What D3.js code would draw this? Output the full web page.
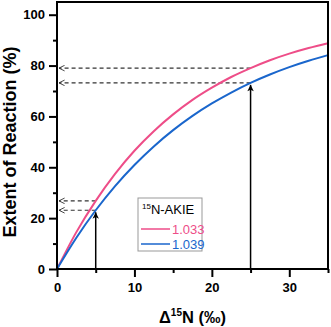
<!DOCTYPE html>
<html>
<head>
<meta charset="utf-8">
<script src="https://cdn.jsdelivr.net/npm/d3@7"></script>
<style>
  body { margin: 0; background: #fff; }
  svg { font-family: "Liberation Sans", Arial, sans-serif; }
</style>
</head>
<body>
<svg id="chart_svg" width="331" height="327"></svg>
<script>
// values
const delta = [0, 2.5, 5, 7.5, 10, 12.5, 15, 17.5, 20, 22.5, 25, 27.5, 30, 32.5, 35];
const akie1033 = [0, 14.5, 26.8, 37.4, 46.5, 54.2, 60.8, 66.5, 71.3, 75.5, 79.0, 82.1, 84.7, 86.9, 88.8];
const akie1039 = [0, 12.3, 23.1, 32.6, 40.9, 48.2, 54.6, 60.2, 65.1, 69.4, 73.2, 76.5, 79.4, 81.9, 84.1];
const seriesNames = ["1.033", "1.039"];
const seriesColors = ["#ee4d88", "#1a66cc"];
// measured points shown with arrows: [delta, extent for 1.033, extent for 1.039]
const marks = [[5, 26.8, 23.1], [25, 79.0, 73.2]];
const xTicks = [0, 10, 20, 30];
const yTicks = [0, 20, 40, 60, 80, 100];

const margin = { top: 2, right: 3, bottom: 58, left: 57 };
const svg = d3.select("#chart_svg");
const width = 331, height = 327;

const x = d3.scaleLinear().domain([0, 35]).range([margin.left, width - margin.right]);
const y = d3.scaleLinear().domain([0, 105]).range([height - margin.bottom, margin.top]);

// arrow heads, drawn pointing along +x and turned with the line
const defs = svg.append("defs");
defs.append("marker").attr("id", "head_solid")
  .attr("viewBox", "0 0 10 10").attr("refX", 9).attr("refY", 5)
  .attr("markerWidth", 8).attr("markerHeight", 8).attr("markerUnits", "userSpaceOnUse")
  .attr("orient", "auto")
  .append("path").attr("d", "M1,1 L9,5 L1,9 L3,5 Z").attr("fill", "#000");
defs.append("marker").attr("id", "head_open")
  .attr("viewBox", "0 0 10 10").attr("refX", 9).attr("refY", 5)
  .attr("markerWidth", 7).attr("markerHeight", 7).attr("markerUnits", "userSpaceOnUse")
  .attr("orient", "auto")
  .append("path").attr("d", "M1,1 L9,5 L1,9").attr("fill", "none").attr("stroke", "#333").attr("stroke-width", 1.3);

// dashed read-off lines to the y axis
marks.forEach(m => {
  [m[1], m[2]].forEach(v => {
    svg.append("line")
      .attr("x1", x(m[0])).attr("x2", x(0) + 2)
      .attr("y1", y(v)).attr("y2", y(v))
      .attr("stroke", "#333").attr("stroke-width", 1.2)
      .attr("stroke-dasharray", "4,3")
      .attr("marker-end", "url(#head_open)");
  });
});

// curves
const line = d3.line().x(d => x(d[0])).y(d => y(d[1])).curve(d3.curveMonotoneX);
[akie1033, akie1039].forEach((vals, i) => {
  svg.append("path")
    .datum(delta.map((d, j) => [d, vals[j]]))
    .attr("d", line)
    .attr("fill", "none")
    .attr("stroke", seriesColors[i])
    .attr("stroke-width", 2);
});

// vertical arrows up to the 1.039 curve
marks.forEach(m => {
  svg.append("line")
    .attr("x1", x(m[0])).attr("x2", x(m[0]))
    .attr("y1", y(0)).attr("y2", y(m[2]) + 2)
    .attr("stroke", "#000").attr("stroke-width", 1.5)
    .attr("marker-end", "url(#head_solid)");
});

// axes
const xAxis = d3.axisBottom(x).tickValues(xTicks).tickSize(8).tickFormat(d3.format("d"));
const xMinor = d3.axisBottom(x).tickValues([5, 15, 25, 35]).tickSize(4).tickFormat("");
const yAxis = d3.axisLeft(y).tickValues(yTicks).tickSize(8).tickFormat(d3.format("d"));
const yMinor = d3.axisLeft(y).tickValues([10, 30, 50, 70, 90]).tickSize(4).tickFormat("");

const gx = svg.append("g").attr("transform", "translate(0," + y(0) + ")").call(xAxis);
const gxm = svg.append("g").attr("transform", "translate(0," + y(0) + ")").call(xMinor);
const gy = svg.append("g").attr("transform", "translate(" + x(0) + ",0)").call(yAxis);
const gym = svg.append("g").attr("transform", "translate(" + x(0) + ",0)").call(yMinor);

[gx, gxm, gy, gym].forEach(g => {
  g.select(".domain").remove();
  g.selectAll(".tick line").attr("stroke", "#000").attr("stroke-width", 2);
  g.selectAll(".tick text").attr("fill", "#000")
    .style("font-size", "13px").style("font-weight", "bold");
});
gx.selectAll(".tick text").attr("dy", "0.95em");
gy.selectAll(".tick text").attr("dx", "-1px");

// frame
svg.append("rect")
  .attr("x", x(0)).attr("y", y(105))
  .attr("width", x(35) - x(0)).attr("height", y(0) - y(105))
  .attr("fill", "none").attr("stroke", "#000").attr("stroke-width", 2);

// axis labels
svg.append("text")
  .attr("x", (x(0) + x(35)) / 2).attr("y", 323)
  .attr("text-anchor", "middle")
  .style("font-size", "16.5px").style("font-weight", "bold")
  .html('Δ<tspan dy="-7" font-size="10px">15</tspan><tspan dy="7">N (‰)</tspan>');

svg.append("text")
  .attr("transform", "translate(16,142) rotate(-90)")
  .attr("text-anchor", "middle")
  .style("font-size", "18px").style("font-weight", "bold")
  .text("Extent of Reaction (%)");

// legend
const lg = svg.append("g").attr("transform", "translate(138,198)");
lg.append("rect").attr("width", 64).attr("height", 53)
  .attr("fill", "#fff").attr("stroke", "#999").attr("stroke-width", 1);
lg.append("text").attr("x", 4).attr("y", 16)
  .style("font-size", "13px").attr("fill", "#000")
  .html('<tspan dy="-5" font-size="8px">15</tspan><tspan dy="5">N-AKIE</tspan>');
seriesNames.forEach((n, i) => {
  const yy = 31 + i * 15;
  lg.append("line").attr("x1", 3).attr("x2", 32).attr("y1", yy).attr("y2", yy)
    .attr("stroke", seriesColors[i]).attr("stroke-width", 1.5);
  lg.append("text").attr("x", 34).attr("y", yy + 5)
    .style("font-size", "13px").attr("fill", seriesColors[i]).text(n);
});
</script>
</body>
</html>
